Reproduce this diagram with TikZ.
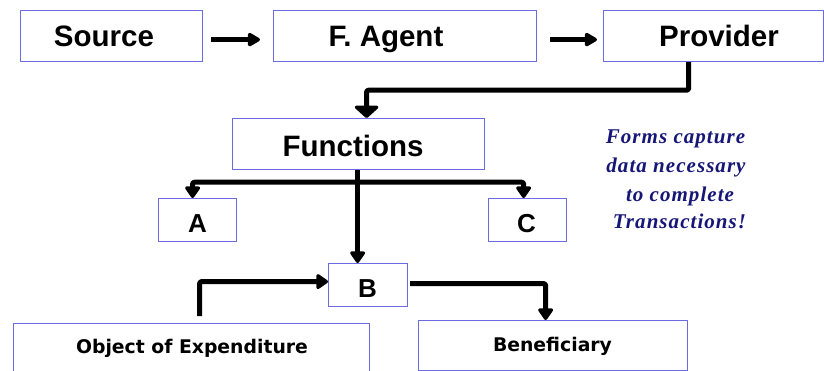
\documentclass[tikz,border=0pt]{standalone}
\usepackage{fontspec}
\setmainfont{Liberation Sans}
\newfontfamily\headfont{Liberation Sans}
\newfontfamily\widefont{DejaVu Sans}
\newfontfamily\notefont{Liberation Serif}[LetterSpace=5]
\usetikzlibrary{arrows.meta}

\definecolor{boxblue}{RGB}{108,108,224}
\definecolor{notenavy}{RGB}{22,22,118}

\begin{document}
\begin{tikzpicture}[x=1pt,y=-1pt,
  box/.style={draw=boxblue, line width=1.2pt, rectangle, inner sep=0pt, anchor=north west},
  biglbl/.style={anchor=base, inner sep=0pt, font=\headfont\fontsize{29.5}{30}\bfseries\selectfont},
  letterlbl/.style={anchor=base, inner sep=0pt, font=\headfont\fontsize{26}{27}\bfseries\selectfont},
  smalllbl/.style={anchor=base, inner sep=0pt, font=\widefont\fontsize{18.8}{20}\bfseries\selectfont},
  notelbl/.style={anchor=base, inner sep=0pt, text=notenavy, font=\notefont\fontsize{21}{22}\bfseries\itshape\selectfont},
  flow/.style={line width=5pt, rounded corners=2pt, line join=round,
    -{Triangle[round, width=17pt, length=13pt]}},
  wideflow/.style={flow, -{Triangle[round, width=28pt, length=13pt]}},
  hopflow/.style={flow, -{Triangle[round, width=15pt, length=14pt]}},
]
\clip (0,0) rectangle (824,371);

% boxes
\node[box, minimum width=182pt, minimum height=51pt] (src)  at (20,10)  {};
\node[box, minimum width=263pt, minimum height=51pt] (fa)   at (273,10) {};
\node[box, minimum width=220pt, minimum height=51pt] (prov) at (603,10) {};
\node[box, minimum width=252pt, minimum height=51pt] (func) at (232,118) {};
\node[box, minimum width=78pt,  minimum height=43pt] (A)    at (158,198) {};
\node[box, minimum width=78pt,  minimum height=43pt] (C)    at (488,198) {};
\node[box, minimum width=79pt,  minimum height=43pt] (B)    at (328,263) {};
\node[box, minimum width=356pt, minimum height=54pt] (obj)  at (13,323)  {};
\node[box, minimum width=269pt, minimum height=50pt] (ben)  at (418,320) {};

% labels
\node[biglbl] (srcT)  at (104,47)   {Source};
\node[biglbl] (faT)   at (386,47)   {F. Agent};
\node[biglbl] (provT) at (719,47)   {Provider};
\node[biglbl] (funcT) at (353,157)  {Functions};
\node[letterlbl] (AT) at (197.5,233) {A};
\node[letterlbl] (CT) at (526.5,233) {C};
\node[letterlbl] (BT) at (367.5,297) {B};
\node[smalllbl] (objT) at (192,353)  {Object of Expenditure};
\node[smalllbl] (benT) at (552.5,351) {Beneficiary};

% note
\node[notelbl] (n1) at (675.5,144) {Forms capture};
\node[notelbl] (n2) at (676,173)   {data necessary};
\node[notelbl] (n3) at (680,202)   {to complete};
\node[notelbl] (n4) at (679.5,229) {Transactions!};

% connectors
\draw[hopflow] ([xshift=8pt,yshift=-3.5pt]src.east) -- ([xshift=-13pt,yshift=-3.5pt]fa.west);
\draw[hopflow] ([xshift=13pt,yshift=-3.5pt]fa.east) -- ([xshift=-6pt,yshift=-3.5pt]prov.west);
\draw[wideflow] ([xshift=-25pt]prov.south) -- ++(0,28) -| ([xshift=8pt]func.north);
\coordinate (fork) at ([xshift=-1pt,yshift=-12pt]func.south);
\draw[flow] ([xshift=-1pt]func.south) -- ([xshift=-1pt]func.south |- B.north);
\draw[flow] (fork) -| ([xshift=-5pt]A.north);
\draw[flow] (fork) -| ([xshift=-4pt]C.north);
\draw[flow] ([xshift=8pt,yshift=7pt]obj.north) |- ([yshift=3.5pt]B.west);
\draw[flow] ([xshift=2pt,yshift=1.5pt]B.east) -| ([xshift=-7.5pt]ben.north);
\end{tikzpicture}
\end{document}
